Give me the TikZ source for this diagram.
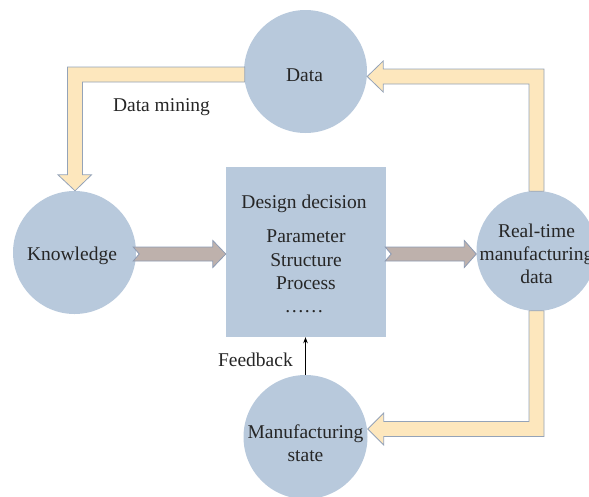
\documentclass[tikz,border=0pt]{standalone}
\usepackage{fontspec}
\setmainfont{Liberation Serif}
\usetikzlibrary{calc,arrows.meta}
\definecolor{bubble}{HTML}{B8C9DC}
\definecolor{flowfill}{HTML}{FDE7BD}
\definecolor{flowline}{HTML}{94A3B8}
\definecolor{pushfill}{HTML}{BEB1AC}
\definecolor{pushline}{HTML}{8D9BB4}
\definecolor{ink}{HTML}{262626}
\begin{document}
\begin{tikzpicture}[x=1pt,y=-1pt,
  bubble/.style={circle,fill=bubble,draw=none,inner sep=0pt},
  lbl/.style={anchor=base,font=\fontsize{19.5}{23}\selectfont,text=ink,inner sep=0pt},
  bandarrow/.style={fill=flowfill,draw=flowline,line width=0.8pt,line join=miter},
  pusharrow/.style={fill=pushfill,draw=pushline,line width=0.8pt,line join=miter}]
\useasboundingbox (0,0) rectangle (589,496);

% circles and the decision box
\node[bubble,minimum size=123pt] (data) at (305.5,71.5) {};
\node[bubble,minimum size=123pt] (know) at (74.5,252.5) {};
\node[bubble,minimum size=120pt] (rt) at (536.5,251) {};
\node[bubble,minimum size=124pt] (ms) at (305.5,437) {};
\node[fill=bubble,minimum width=160pt,minimum height=170pt,inner sep=0pt] (box) at (306,252) {};

% bend points of the broad L-shaped arrows
\coordinate (bendA) at (536.5,76.5);
\coordinate (bendB) at (75,74.5);
\coordinate (bendC) at (536.5,429);
\coordinate (tipA) at (data.east |- bendA);
\coordinate (tipB) at (bendB |- know.north);
\coordinate (tipC) at (ms.east |- bendC);

% real-time data -> data
\filldraw[bandarrow] ($(rt.north)+(-7.5,0.5)$) -- ($(bendA)+(-7.5,7.5)$)
  -- ($(tipA)+(16,7.5)$) -- ($(tipA)+(16,15.5)$) -- (tipA)
  -- ($(tipA)+(16,-15.5)$) -- ($(tipA)+(16,-7.5)$)
  -- ($(bendA)+(7.5,-7.5)$) -- ($(rt.north)+(7.5,0.5)$) -- cycle;

% data -> knowledge (data mining)
\filldraw[bandarrow] ($(data.west |- bendB)+(1,-7.5)$) -- ($(bendB)+(-7.5,-7.5)$)
  -- ($(tipB)+(-7.5,-16)$) -- ($(tipB)+(-17,-16)$) -- (tipB)
  -- ($(tipB)+(16.5,-16)$) -- ($(tipB)+(7.5,-16)$)
  -- ($(bendB)+(7.5,7.5)$) -- ($(data.west |- bendB)+(1,7.5)$) -- cycle;

% real-time data -> manufacturing state
\filldraw[bandarrow] ($(rt.south)+(-7.5,-0.5)$) -- ($(bendC)+(-7.5,-7.5)$)
  -- ($(tipC)+(16,-7.5)$) -- ($(tipC)+(16,-16)$) -- (tipC)
  -- ($(tipC)+(16,16)$) -- ($(tipC)+(16,7.5)$)
  -- ($(bendC)+(7.5,7.5)$) -- ($(rt.south)+(7.5,-0.5)$) -- cycle;

% notched arrows: knowledge -> box -> real-time data
\filldraw[pusharrow] ($(know.east)+(-3,-5.5)$) -- ($(box.west)+(-13,-5)$)
  -- ($(box.west)+(-13,-11.5)$) -- ($(box.west)+(0,2)$)
  -- ($(box.west)+(-13,15.5)$) -- ($(box.west)+(-13,9)$)
  -- ($(know.east)+(-3,8.5)$) -- ($(know.east)+(3,1.5)$) -- cycle;
\filldraw[pusharrow] ($(box.east)+(-1,-5)$) -- ($(rt.west)+(-12,-4)$)
  -- ($(rt.west)+(-12,-10.5)$) -- ($(rt.west)+(0,3)$)
  -- ($(rt.west)+(-12,16.5)$) -- ($(rt.west)+(-12,10)$)
  -- ($(box.east)+(-1,9)$) -- ($(box.east)+(5,2)$) -- cycle;

% feedback
\draw[-{Stealth[length=6pt,width=4.5pt]},line width=0.7pt,black] (ms.north) -- (ms.north |- box.south);

% labels
\node[lbl] (tData) at (304.5,81.5) {Data};
\node[lbl] (tMining) at (161.5,111) {Data mining};
\node[lbl] (tKnow) at (72,260) {Knowledge};
\node[lbl] (tDesign) at (304,208) {Design decision};
\node[lbl] (tParam) at (306,242) {Parameter};
\node[lbl] (tStruct) at (306,266) {Structure};
\node[lbl] (tProc) at (306,289) {Process};
\node[lbl] (tDots) at (304,312) {……};
\node[lbl] (tRt1) at (536.5,237) {Real-time};
\node[lbl] (tRt2) at (536.5,260.5) {manufacturing};
\node[lbl] (tRt3) at (536.5,283) {data};
\node[lbl] (tMs1) at (305.5,438) {Manufacturing};
\node[lbl] (tMs2) at (305.5,461) {state};
\node[lbl,anchor=base east] (tFeed) at (293,366.5) {Feedback};
\end{tikzpicture}
\end{document}
